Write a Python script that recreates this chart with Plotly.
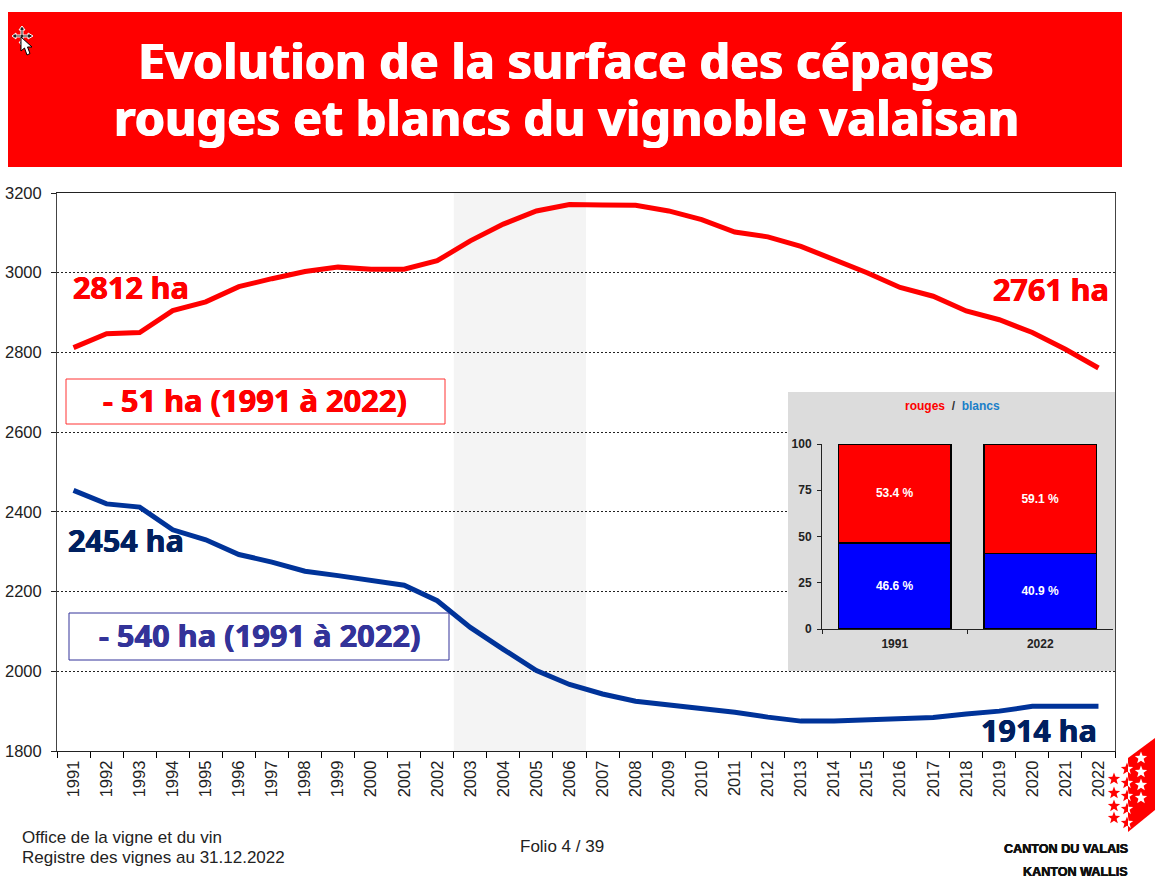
import math
import plotly.graph_objects as go

years = [str(y) for y in range(1991, 2023)]
rouges = [2812, 2847, 2850, 2905, 2927, 2965, 2985, 3003, 3014, 3009, 3009, 3030, 3080, 3122, 3155, 3171,
          3170, 3169, 3155, 3133, 3102, 3090, 3066, 3033, 3000, 2963, 2941, 2904, 2882, 2850, 2808, 2761]
blancs = [2454, 2420, 2412, 2355, 2330, 2293, 2274, 2251, 2240, 2228, 2216, 2177, 2110, 2055, 2002, 1967,
          1943, 1925, 1916, 1906, 1897, 1885, 1875, 1875, 1878, 1878, 1884, 1893, 1900, 1912, 1912, 1912]
y_ticks = [1800, 2000, 2200, 2400, 2600, 2800, 3000, 3200]
inset_years = ["1991", "2022"]
inset_blancs = [46.6, 40.9]
inset_rouges = [53.4, 59.1]
inset_ticks = [0, 25, 50, 75, 100]

W, H = 1155, 880
L, R, T, B = 57, 1115, 193, 751


def px(x):
    return (x - L) / (R - L)


def py(y):
    return (B - y) / (B - T)


fig = go.Figure()
fig.add_trace(go.Scatter(x=years, y=rouges, mode="lines", line=dict(color="#ff0000", width=5), xaxis="x", yaxis="y"))
fig.add_trace(go.Scatter(x=years, y=blancs, mode="lines", line=dict(color="#003399", width=5), xaxis="x", yaxis="y"))
# grey panel behind the inset: its own subplot so it hides the main grid
fig.add_trace(go.Scatter(x=[0, 1, 1, 0], y=[0, 0, 1, 1], mode="none", fill="toself", fillcolor="#dcdcdc",
                         xaxis="x2", yaxis="y2"))
inset_font = dict(color="white", size=12, family="Liberation Sans", weight="bold")
fig.add_trace(go.Bar(x=inset_years, y=inset_blancs, marker=dict(color="#0000ff", line=dict(color="#000", width=1.5)),
                     text=[f"{v} %" for v in inset_blancs], textposition="inside", insidetextanchor="middle",
                     textangle=0, textfont=inset_font, xaxis="x3", yaxis="y3"))
fig.add_trace(go.Bar(x=inset_years, y=inset_rouges, marker=dict(color="#ff0000", line=dict(color="#000", width=1.5)),
                     text=[f"{v} %" for v in inset_rouges], textposition="inside", insidetextanchor="middle",
                     textangle=0, textfont=inset_font, xaxis="x3", yaxis="y3"))

shapes = []


def rect(x0, y0, x1, y1, fill, line=None, lw=1, layer="above"):
    shapes.append(dict(type="rect", xref="paper", yref="paper", x0=px(x0), x1=px(x1), y0=py(y0), y1=py(y1),
                       fillcolor=fill, line=dict(color=line, width=lw if line else 0), layer=layer))


def path(points, fill, line=None, lw=1):
    d = "M " + " L ".join(f"{px(a):.5f},{py(b):.5f}" for a, b in points) + " Z"
    shapes.append(dict(type="path", xref="paper", yref="paper", path=d, fillcolor=fill,
                       line=dict(color=line, width=lw if line else 0), layer="above"))


def star(cx, cy, r=6.5):
    pts = []
    for i in range(10):
        a = -math.pi / 2 + i * math.pi / 5
        rr = r if i % 2 == 0 else r * 0.42
        pts.append((cx + rr * math.cos(a), cy + rr * math.sin(a)))
    return pts


rect(8, 12, 1122, 167, "#ff0000")
# shaded period
shapes.append(dict(type="rect", xref="x", yref="y domain", x0=11.5, x1=15.5, y0=0, y1=1,
                   fillcolor="rgba(0,0,0,0.045)", line=dict(width=0), layer="below"))
# annotation boxes
rect(66, 379, 445, 424, "white", "#ff3333", 1)
rect(69, 613, 449, 660, "white", "#333399", 1)

# Valais flag
edge = 1128
for cx, cy in [(1114, 779), (1114, 793), (1114, 806), (1114, 818)]:
    path(star(cx, cy), "#ff0000")
half_stars = [(1127, 769), (1127, 783), (1127, 796), (1127, 809), (1127, 823)]
for cx, cy in half_stars:
    path(star(cx, cy), "#ff0000")
path([(edge, 758), (1155, 738), (1155, 810), (edge, 832)], "#ff0000")
for cx, cy in half_stars:
    path([(max(a, edge), b) for a, b in star(cx, cy)], "white")
for cy in [758, 772, 785, 798]:
    path(star(1141, cy), "white")

# mouse cursor
path([(22, 26), (25, 30), (23, 30), (23, 35), (28, 35), (28, 33), (33, 36), (28, 39), (28, 37), (23, 37), (23, 42),
      (25, 42), (22, 46), (19, 42), (21, 42), (21, 37), (16, 37), (16, 39), (12, 36), (16, 33), (16, 35), (21, 35),
      (21, 30), (19, 30)], "#222", "white", 1)
path([(21, 37), (21, 51), (24.5, 48), (27, 55), (30, 53.5), (27.5, 47), (32, 47)], "white", "black", 1)

ann = []


def text(x, y, s, size, color, family="Liberation Sans", anchor="left", bold=False, heavy=0):
    font = dict(size=size, color=color, family=family, weight="bold" if bold else "normal")
    if heavy:
        font["shadow"] = f"{heavy}px 0 0 {color}, -{heavy}px 0 0 {color}"
    ann.append(dict(xref="paper", yref="paper", x=px(x), y=py(y), text=s, showarrow=False,
                    xanchor=anchor, yanchor="middle", font=font))


TF = "Noto Sans"
text(566, 60, "Evolution de la surface des cépages", 48.5, "white", TF, "center", True, 0.7)
text(566, 117, "rouges et blancs du vignoble valaisan", 48.5, "white", TF, "center", True, 0.7)
text(131, 287, "2812 ha", 30.5, "#ff0000", TF, "center", True, 0.4)
text(1051, 289, "2761 ha", 30.5, "#ff0000", TF, "center", True, 0.4)
text(126, 540, "2454 ha", 30.5, "#002060", TF, "center", True, 0.4)
text(1039, 730, "1914 ha", 30.5, "#002060", TF, "center", True, 0.4)
text(255, 400, "- 51 ha (1991 à 2022)", 30.8, "#ff0000", TF, "center", True, 0.4)
text(259, 635, "- 540 ha (1991 à 2022)", 30.8, "#333399", TF, "center", True, 0.4)
text(952, 406, "<span style='color:#ff0000'>rouges</span>  <span style='color:#333'>/</span>  "
               "<span style='color:#1a7fc9'>blancs</span>", 12, "#333", anchor="center", bold=True)
text(20, 837, "Office de la vigne et du vin", 17, "#222")
text(20, 857, "Registre des vignes au 31.12.2022", 17, "#222")
text(562, 846, "Folio 4 / 39", 17, "#222", anchor="center")
text(1130, 849, "CANTON DU VALAIS", 12.6, "#111", "Liberation Sans", "right", True, 0.3)
text(1130, 872, "KANTON WALLIS", 12.6, "#111", "Liberation Sans", "right", True, 0.3)

inset_tick = dict(size=12, color="#222", family="Liberation Sans", weight="bold")
fig.update_layout(
    width=W, height=H, margin=dict(l=L, r=W - R, t=T, b=H - B, pad=0, autoexpand=False),
    paper_bgcolor="white", plot_bgcolor="rgba(0,0,0,0)", showlegend=False, barmode="stack", bargap=0.23,
    shapes=shapes, annotations=ann,
    font=dict(family="Liberation Sans", color="#222"),
    xaxis=dict(type="category", categoryorder="array", categoryarray=years, range=[-0.5, 31.5], tickson="boundaries",
               ticks="outside", ticklen=6, tickcolor="#000", tickwidth=1, showline=True, linecolor="#222", linewidth=1,
               mirror=True, tickangle=-90, tickfont=dict(size=16.5, color="#222"), showgrid=False, anchor="y",
               ticklabelstandoff=2),
    yaxis=dict(range=[1800, 3200], tickvals=y_ticks, ticks="outside", ticklen=5, tickcolor="#222", showline=True,
               linecolor="#444", linewidth=1, mirror=True, showgrid=True, gridcolor="#222", griddash="2px,2px",
               gridwidth=1, zeroline=False, tickfont=dict(size=16.5, color="#222"), anchor="x", ticklabelstandoff=6),
    xaxis2=dict(domain=[px(788), px(1115)], visible=False, range=[0, 1], anchor="y2"),
    yaxis2=dict(domain=[py(671), py(392)], visible=False, range=[0, 1], anchor="x2"),
    xaxis3=dict(domain=[px(822), px(1113)], type="category", range=[-0.5, 1.5], tickson="boundaries", ticks="outside",
                ticklen=4, tickcolor="#222", showline=True, linecolor="#222", linewidth=1, showgrid=False,
                tickfont=inset_tick, anchor="y3", ticklabelstandoff=4),
    yaxis3=dict(domain=[py(629), py(444)], range=[0, 100], tickvals=inset_ticks, ticks="outside", ticklen=4,
                tickcolor="#222", showline=True, linecolor="#222", linewidth=1, showgrid=False, zeroline=False,
                tickfont=inset_tick, anchor="x3", ticklabelstandoff=3),
)

fig.write_html("out.html", post_script="document.body.style.margin='0';", config={"displayModeBar": False})
